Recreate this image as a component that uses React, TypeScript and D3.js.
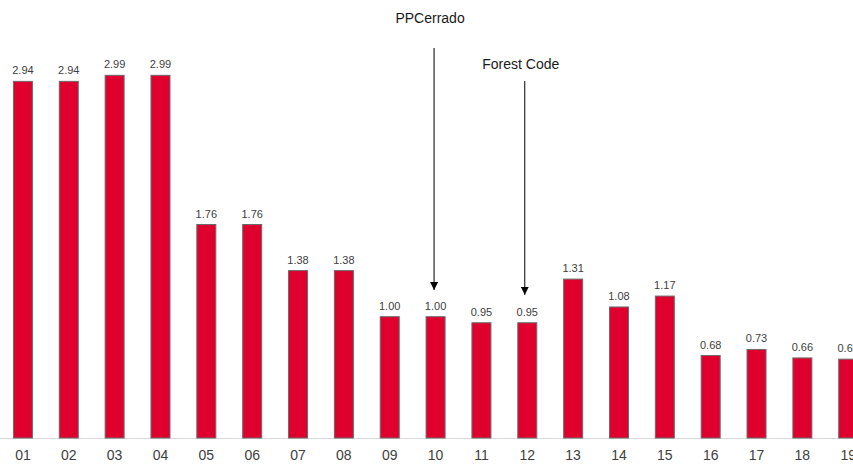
import React from "react";
import * as d3 from "d3";

const categories = ["01","02","03","04","05","06","07","08","09","10","11","12","13","14","15","16","17","18","19"];
const values = [2.94,2.94,2.99,2.99,1.76,1.76,1.38,1.38,1.00,1.00,0.95,0.95,1.31,1.08,1.17,0.68,0.73,0.66,0.65];
const annotations = [
  { label: "PPCerrado", category: "10", textY: 18, lineTop: 48, tipValue: 1.22, dx: -1.5 },
  { label: "Forest Code", category: "12", textY: 64, lineTop: 81, tipValue: 1.18, dx: -2.5 },
];

const W = 853, H = 464;
const baseY = 438;
const font = "'Liberation Sans', Arial, sans-serif";

export default function App() {
  const p = 1 - 19 / 45.85;
  const x = d3.scaleBand<string>().domain(categories).range([0, 45.85 * categories.length]).paddingInner(p).paddingOuter(p / 2);
  const y = d3.scaleLinear().domain([0, 2.99]).range([baseY, 75.3]);
  const bw = x.bandwidth();
  return (
    <svg width={W} height={H} style={{ position: "absolute", left: 0, top: 0, background: "#fff" }}>
      <defs>
        <marker id="ah" viewBox="0 0 10 10" refX="10" refY="5" markerWidth="8" markerHeight="8" markerUnits="userSpaceOnUse" orient="auto">
          <path d="M0,0 L10,5 L0,10 z" fill="#000" />
        </marker>
      </defs>
      <line x1={0} x2={W} y1={baseY + 0.5} y2={baseY + 0.5} stroke="#d9d9d9" strokeWidth={1} />
      {categories.map((c, i) => {
        const x0 = x(c)!;
        const yt = y(values[i]);
        return (
          <g key={c}>
            <rect x={x0} y={yt} width={bw} height={baseY - yt} fill="#e0002e" stroke="#6b6b6b" strokeWidth={1} />
            <text x={x0 + bw / 2} y={yt - 11} textAnchor="middle" dominantBaseline="central" fontFamily={font} fontSize={11} fill="#404040">
              {values[i].toFixed(2)}
            </text>
            <text x={x0 + bw / 2} y={455} textAnchor="middle" dominantBaseline="central" fontFamily={font} fontSize={14} fill="#404040">
              {c}
            </text>
          </g>
        );
      })}
      {annotations.map((a) => {
        const cx = x(a.category)! + bw / 2 + a.dx;
        return (
          <g key={a.label}>
            <text x={cx - 4} y={a.textY} textAnchor="middle" dominantBaseline="central" fontFamily={font} fontSize={14} fill="#1a1a1a">
              {a.label}
            </text>
            <line x1={cx} x2={cx} y1={a.lineTop} y2={y(a.tipValue)} stroke="#000" strokeWidth={1} markerEnd="url(#ah)" />
          </g>
        );
      })}
    </svg>
  );
}
